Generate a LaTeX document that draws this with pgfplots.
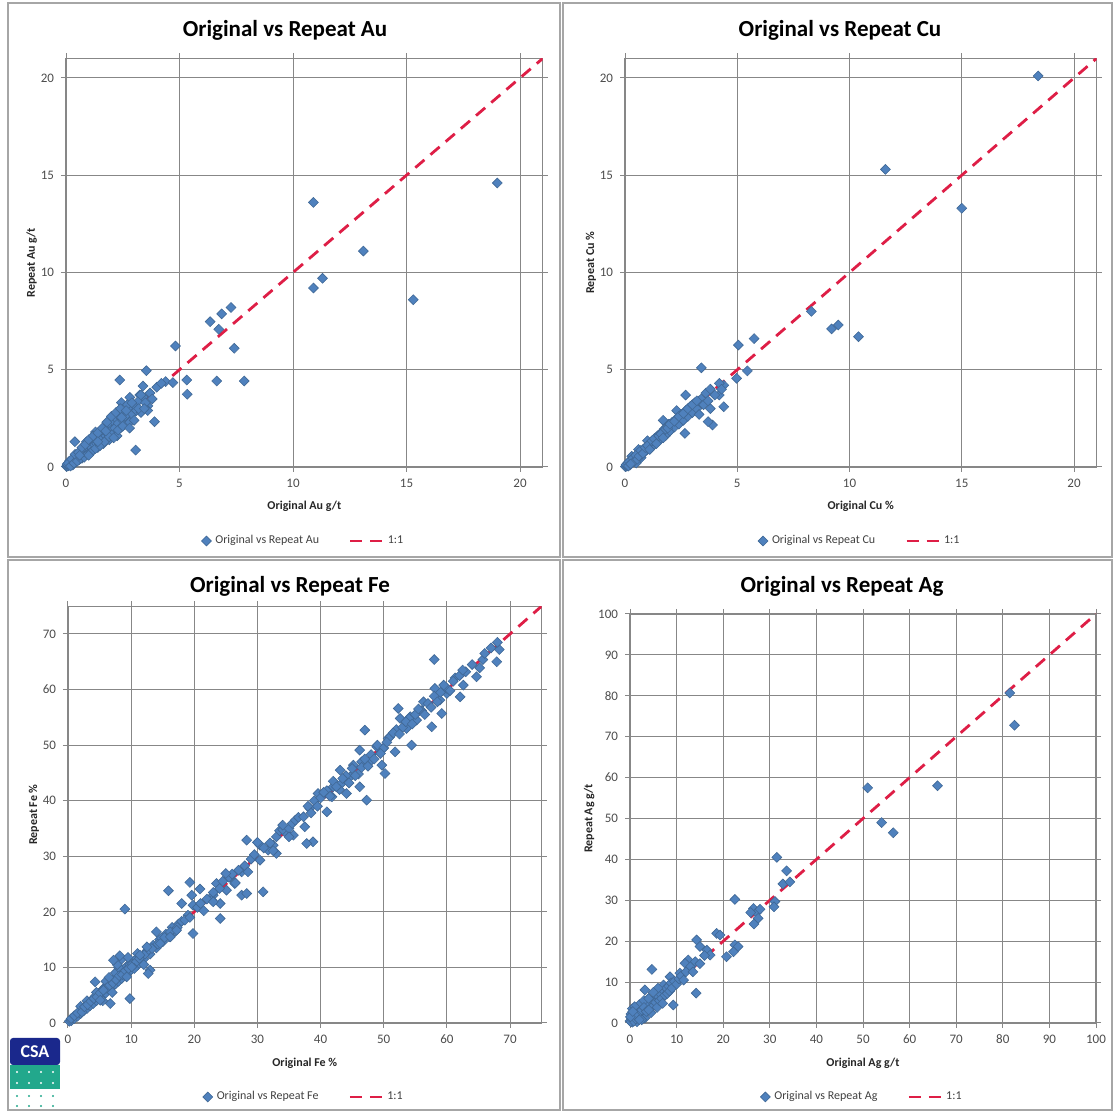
\documentclass[border=0pt]{standalone}
\usepackage{fontspec}
\setmainfont{Carlito}
\usepackage{pgfplots}
\pgfplotsset{compat=1.18}
\usepackage{pgfplotstable}

\definecolor{mk}{RGB}{79,129,189}
\definecolor{mkd}{RGB}{64,104,150}
\definecolor{oneline}{RGB}{222,30,70}
\definecolor{gridc}{RGB}{135,135,135}
\definecolor{csablue}{RGB}{26,40,140}
\definecolor{csateal}{RGB}{34,168,140}

% Au g/t
\pgfplotstableread{
x y
19.0 14.6
10.9 13.6
13.1 11.1
11.3 9.7
10.9 9.2
15.3 8.6
7.27 8.2
6.86 7.87
6.35 7.47
6.73 7.08
7.41 6.10
4.82 6.22
3.54 4.95
2.37 4.47
5.32 4.47
6.64 4.42
7.85 4.42
5.34 3.74
4.39 4.39
4.71 4.34
3.39 4.16
2.44 3.31
2.81 3.58
3.25 3.70
3.61 3.14
3.90 2.33
3.07 0.87
0.39 1.30
0.02 0.03
0.05 0.04
0.08 0.10
0.10 0.06
0.12 0.15
0.15 0.10
0.18 0.22
0.20 0.14
0.22 0.30
0.25 0.20
0.28 0.35
0.30 0.25
0.32 0.18
0.35 0.42
0.38 0.30
0.40 0.50
0.42 0.36
0.45 0.28
0.48 0.55
0.50 0.42
0.52 0.65
0.55 0.48
0.58 0.38
0.60 0.70
0.62 0.55
0.65 0.80
0.68 0.60
0.70 0.45
0.72 0.85
0.75 0.70
0.78 0.95
0.80 0.62
0.85 0.90
0.88 1.05
0.90 0.75
0.95 1.20
0.98 0.85
1.00 1.10
1.05 0.90
1.10 1.30
1.12 1.00
1.15 0.80
1.20 1.40
1.25 1.15
1.30 1.55
1.35 1.20
1.40 1.00
1.45 1.60
1.50 1.35
1.55 1.80
1.60 1.45
1.65 1.20
1.70 1.90
1.75 1.60
1.80 2.10
1.85 1.70
1.90 1.40
1.95 2.20
2.00 1.90
2.05 2.40
2.10 1.75
2.15 2.00
2.20 2.50
2.25 1.60
2.30 2.25
2.35 2.60
2.40 2.00
2.50 2.40
2.55 2.80
2.60 2.20
2.70 2.50
2.75 3.00
2.80 2.30
2.90 2.70
3.00 3.20
3.10 2.90
3.20 3.40
3.30 2.80
3.40 3.60
3.50 3.30
3.60 2.90
3.70 3.80
3.80 3.50
4.00 4.10
4.20 4.30
0.15 0.30
0.30 0.10
0.45 0.60
0.60 0.40
1.30 1.80
0.90 1.30
0.05 0.15
0.10 0.20
0.20 0.05
0.25 0.40
0.35 0.20
0.40 0.65
0.50 0.30
0.55 0.75
0.65 0.45
0.70 1.00
0.80 0.50
0.85 1.15
0.95 0.65
1.00 1.40
1.10 0.75
1.20 1.60
1.30 0.95
1.40 1.75
1.50 1.10
1.60 2.00
1.70 1.30
1.80 2.30
1.90 1.55
2.00 2.60
2.10 1.50
2.20 2.80
2.30 1.90
2.40 3.00
2.50 2.10
2.60 2.60
2.70 3.20
2.80 2.00
2.90 3.30
3.00 2.40
3.20 3.00
3.30 3.70
3.45 3.00
1.00 0.60
1.40 1.30
1.75 1.85
2.45 2.55
2.65 2.90
0.60 0.60
}\auData

% Cu %
\pgfplotstableread{
x y
18.4 20.1
11.6 15.3
15.0 13.3
9.5 7.3
9.2 7.1
10.4 6.7
8.3 8.0
5.75 6.6
5.05 6.27
3.4 5.1
5.45 4.94
4.97 4.56
4.4 4.2
4.2 3.7
4.4 3.1
3.9 2.16
3.7 2.33
3.8 3.0
3.3 3.4
2.7 3.7
2.67 1.73
2.3 2.9
1.7 2.4
0.02 0.02
0.05 0.08
0.08 0.04
0.10 0.14
0.12 0.08
0.15 0.20
0.18 0.12
0.20 0.25
0.22 0.16
0.25 0.30
0.28 0.20
0.30 0.38
0.32 0.26
0.35 0.30
0.38 0.45
0.40 0.32
0.42 0.50
0.45 0.40
0.48 0.36
0.50 0.55
0.52 0.45
0.55 0.62
0.58 0.50
0.60 0.42
0.62 0.70
0.65 0.58
0.68 0.75
0.70 0.60
0.72 0.48
0.75 0.80
0.78 0.68
0.80 0.90
0.85 0.75
0.88 0.95
0.90 0.82
0.95 1.05
1.00 0.90
1.05 1.15
1.10 1.00
1.15 1.25
1.20 1.05
1.25 1.35
1.30 1.15
1.35 1.50
1.40 1.25
1.45 1.60
1.50 1.35
1.55 1.70
1.60 1.45
1.65 1.80
1.70 1.55
1.75 1.95
1.80 1.60
1.85 2.05
1.90 1.75
1.95 2.20
2.00 1.85
2.10 2.30
2.20 2.05
2.30 2.50
2.40 2.20
2.50 2.70
2.60 2.40
2.70 2.90
2.80 2.60
2.90 3.10
3.00 2.80
3.10 3.30
3.20 3.00
3.30 2.70
3.40 3.50
3.50 3.20
3.60 3.80
3.70 3.40
3.80 4.00
4.00 3.70
4.20 4.30
4.30 4.00
0.30 0.55
0.60 0.90
1.00 1.35
0.50 0.20
0.05 0.12
0.12 0.20
0.18 0.28
0.22 0.10
0.30 0.20
0.35 0.45
0.42 0.30
0.48 0.60
0.55 0.40
0.62 0.55
0.70 0.85
0.80 0.70
0.90 1.00
1.00 1.10
1.10 0.90
1.20 1.35
1.30 1.45
1.40 1.20
1.50 1.60
1.60 1.70
1.70 1.50
1.80 1.95
1.90 2.00
2.00 2.20
2.20 2.35
2.40 2.60
2.60 2.75
2.80 3.00
3.00 3.20
3.20 3.40
0.15 0.05
0.25 0.15
}\cuData

% Fe %
\pgfplotstableread{
x y
0.2 0.3
0.5 0.4
0.8 0.9
1.0 0.8
1.3 1.5
1.5 1.2
1.8 2.0
2.0 1.7
2.3 2.6
2.5 2.2
2.8 3.1
3.0 2.6
3.3 3.6
3.5 3.1
3.8 4.2
4.0 3.5
4.3 4.8
4.5 4.0
4.8 5.3
5.0 4.5
5.3 5.8
5.5 5.0
5.8 6.4
6.0 5.4
6.3 6.9
6.5 6.0
6.8 7.5
7.0 6.5
7.3 8.0
7.5 7.0
7.8 8.6
8.0 7.5
8.3 9.2
8.5 8.0
8.8 9.5
9.0 8.6
9.3 10.2
9.5 9.0
9.8 10.5
10.0 9.6
10.5 11.2
11.0 10.4
11.5 12.0
12.0 11.5
12.5 13.0
13.0 12.4
13.5 14.0
14.0 13.5
14.5 15.0
15.0 14.6
15.5 16.0
16.0 15.5
16.5 17.2
17.0 16.5
17.5 17.8
3.0 4.0
4.5 5.5
6.0 7.5
7.5 9.0
8.0 10.0
2.0 3.0
5.5 4.0
7.0 5.5
11.0 12.5
12.0 10.5
0.5 0.8
1.0 1.3
1.5 1.8
2.2 2.0
2.6 2.9
3.1 3.3
3.6 3.9
4.1 4.4
4.6 4.7
5.1 5.4
5.6 5.9
6.1 6.3
6.6 6.8
7.1 7.2
7.6 7.8
8.1 8.5
8.6 8.7
9.1 9.4
9.6 9.8
10.2 10.6
10.8 11.0
11.3 11.6
12.2 12.4
12.8 13.2
13.3 13.4
14.2 14.2
14.8 15.3
15.3 15.4
16.2 16.4
17.3 17.2
18.0 18.3
19.0 19.4
8.5 11.5
7.8 10.5
6.5 8.2
9.5 11.8
10.5 9.8
9.0 20.5
15.9 23.8
19.3 25.3
20.9 24.1
19.6 23.0
18.0 21.5
19.8 21.2
23.5 25.1
23.0 23.0
22.8 22.1
24.1 21.5
24.1 18.8
25.1 23.9
25.7 26.3
26.4 25.1
27.5 27.2
27.5 23.0
28.3 23.3
28.3 32.9
30.4 32.0
30.9 23.6
31.7 31.1
30.4 29.3
32.5 32.0
33.0 30.5
34.6 34.1
35.7 33.8
18.5 18.5
19.3 19.0
19.8 16.1
14.0 16.4
16.2 15.5
17.2 16.7
14.6 14.3
12.5 13.7
8.2 12.1
7.2 11.3
11.4 12.2
13.0 9.5
12.7 8.9
10.1 10.1
9.3 8.3
9.8 4.4
4.3 7.4
5.6 5.9
6.7 3.5
5.1 4.1
20.5 20.8
21.0 21.5
22.0 22.3
23.0 23.5
24.0 24.2
24.5 25.5
25.5 26.2
26.0 26.8
27.0 27.5
28.0 28.3
29.0 29.5
29.5 30.3
31.0 31.5
32.0 32.4
33.0 33.5
33.5 34.6
34.0 34.8
35.0 35.0
35.5 35.9
36.0 36.5
36.5 37.0
21.5 20.2
23.0 21.8
26.5 25.2
28.5 27.2
32.5 31.0
35.0 33.5
25.0 26.9
30.0 32.5
34.0 35.6
58.0 65.4
65.7 65.4
67.9 65.0
68.3 67.2
65.2 63.9
64.7 62.3
61.3 62.1
62.6 60.8
62.1 58.7
58.1 60.2
60.0 59.3
58.9 58.1
59.2 55.7
57.6 53.3
56.3 57.8
55.2 54.5
53.6 53.0
52.3 56.6
52.6 54.8
54.2 55.1
54.4 50.0
47.0 52.7
50.7 51.2
51.8 48.8
50.2 44.9
49.9 49.4
48.9 49.7
49.7 46.4
46.2 49.1
46.5 47.0
47.8 47.0
45.2 46.4
47.3 40.1
46.2 42.5
43.1 45.5
43.3 43.1
42.0 42.5
44.7 44.3
41.8 40.7
44.1 41.3
39.6 41.3
38.3 38.6
37.3 37.1
41.0 38.0
38.8 32.6
37.8 32.3
37.5 35.3
38.0 39.0
39.0 40.0
40.0 40.5
41.0 41.8
42.0 43.5
43.0 42.0
44.0 44.5
45.0 45.8
46.0 44.8
47.0 47.5
48.0 48.3
49.0 50.0
50.0 49.5
51.0 51.5
52.0 52.8
53.0 53.2
54.0 54.8
55.0 55.5
56.0 56.2
57.0 57.5
58.0 58.8
59.0 59.5
60.0 60.2
61.0 61.5
62.0 62.5
63.0 63.2
64.0 64.5
66.0 66.5
67.0 67.5
68.0 68.5
38.5 37.8
39.5 39.0
40.5 41.5
41.5 40.8
42.5 42.5
43.5 44.0
44.5 43.2
45.5 44.5
46.5 46.0
47.5 46.2
48.5 47.5
49.5 48.5
50.5 50.5
51.5 52.2
52.5 52.0
53.5 54.2
54.5 53.8
55.5 56.5
56.5 55.5
57.5 56.8
58.5 57.8
59.5 60.8
60.5 59.8
62.5 63.5
}\feData

% Ag g/t
\pgfplotstableread{
x y
81.5 80.7
82.5 72.8
66.0 58.0
51.0 57.5
54.0 49.0
56.5 46.5
31.5 40.5
33.6 37.2
32.8 34.0
34.3 34.5
31.1 29.7
30.9 28.4
22.5 30.2
26.5 28.0
27.2 27.0
25.9 27.0
27.9 27.8
27.5 25.6
26.6 24.2
18.6 21.9
19.3 21.5
14.3 20.3
15.0 18.7
16.5 17.8
22.5 19.1
23.2 18.7
22.2 17.4
20.7 16.2
17.2 16.6
12.5 15.4
11.8 14.6
12.9 13.4
10.7 12.2
4.7 13.1
7.2 9.3
3.2 8.1
14.2 7.3
9.3 4.4
8.6 11.3
0.0 0.5
0.3 1.0
0.5 0.2
0.8 1.5
1.0 0.6
1.2 2.0
1.5 1.0
1.8 2.5
2.0 1.5
2.2 3.0
2.5 2.0
2.8 3.5
3.0 2.5
3.2 1.2
3.5 4.0
3.8 3.0
4.0 4.8
4.3 3.5
4.5 2.5
4.8 5.5
5.0 4.2
5.3 6.0
5.5 5.0
5.8 3.8
6.0 6.5
6.3 5.5
6.5 7.2
6.8 6.0
7.0 4.8
7.3 7.8
7.5 6.8
7.8 8.5
8.0 7.2
8.3 9.0
8.5 7.8
8.8 9.8
9.0 8.5
9.5 10.2
10.0 9.5
10.5 10.8
11.0 11.5
11.5 10.5
12.0 12.5
13.0 13.8
13.5 12.5
14.0 15.0
15.0 14.5
16.0 16.5
1.0 3.0
2.0 4.5
0.5 3.5
1.5 0.3
2.5 0.8
0.2 2.2
1.0 4.0
3.0 5.5
4.0 6.0
6.0 8.5
5.0 7.5
0.2 0.3
0.5 1.2
0.8 0.4
1.2 1.0
1.5 2.2
2.0 2.5
2.5 3.2
3.0 3.8
3.5 2.8
4.0 3.2
1.0 2.0
0.1 1.5
0.6 2.8
2.0 0.8
}\agData

\pgfplotsset{
  panel/.style={
    scale only axis, anchor=south west,
    grid=major,
    major grid style={gridc, line width=0.5pt},
    axis line style={gridc, line width=0.6pt},
    tick style={gridc, line width=0.5pt},
    tick align=outside, major tick length=2.5pt,
    ticklabel style={font=\fontsize{6.5}{7}\selectfont, text=black!70},
    /pgf/number format/assume math mode=true,
    label style={font=\bfseries\fontsize{6}{7}\selectfont, text=black!85},
    xlabel shift=0pt, ylabel shift=-5pt,
    legend columns=2,
    legend style={draw=none, fill=none, at={(0.5,0)}, anchor=center, yshift=-37pt,
      font=\fontsize{6}{7}\selectfont, text=black!75,
      /tikz/every even column/.append style={column sep=13pt}},
    legend cell align=left,
  },
  pts/.style={only marks, mark=square*, mark size=1.75pt,
    mark options={rotate=45, fill=mk, draw=mkd, line width=0.3pt},
    legend image code/.code={\pgfuseplotmark{square*}},
    legend image code/.code={\draw[mark repeat=2, mark phase=2, ##1] plot coordinates {(0pt,0pt) (5pt,0pt) (12pt,0pt)};}},
  oneone/.style={oneline, line width=1.4pt, dash pattern=on 6pt off 4pt, no marks,
    legend image code/.code={\draw[##1] (0pt,0pt) -- (16pt,0pt);}},
}

\begin{document}
\begin{tikzpicture}
\useasboundingbox (0,0) rectangle (557pt,556.5pt);
% panel frames
\draw[gray!70, line width=0.8pt] (4pt,278pt) rectangle (280pt,555pt);
\draw[gray!70, line width=0.8pt] (281.5pt,278pt) rectangle (556pt,555pt);
\draw[gray!70, line width=0.8pt] (4pt,1.5pt) rectangle (280pt,276.5pt);
\draw[gray!70, line width=0.8pt] (281.5pt,1.5pt) rectangle (556pt,276.5pt);

% titles
\node[font=\bfseries\fontsize{11.5}{13}\selectfont] at (142.5pt,541.5pt) {Original vs Repeat Au};
\node[font=\bfseries\fontsize{11.5}{13}\selectfont] at (420pt,541.5pt) {Original vs Repeat Cu};
\node[font=\bfseries\fontsize{11.5}{13}\selectfont] at (145pt,263.5pt) {Original vs Repeat Fe};
\node[font=\bfseries\fontsize{11.5}{13}\selectfont] at (421pt,263.5pt) {Original vs Repeat Ag};

% Au
\begin{axis}[panel, at={(33pt,323pt)}, width=238.35pt, height=204.25pt,
  xmin=0, xmax=21, ymin=0, ymax=21, xtick={0,5,...,20}, ytick={0,5,...,20},
  xlabel={Original Au g/t}, ylabel={Repeat Au g/t}]
\addplot[pts] table {\auData};
\addlegendentry{Original vs Repeat Au}
\addplot[oneone] coordinates {(0,0) (21,21)};
\addlegendentry{1:1}
\end{axis}

% Cu
\begin{axis}[panel, at={(312.5pt,323pt)}, width=235.75pt, height=204.25pt,
  xmin=0, xmax=21, ymin=0, ymax=21, xtick={0,5,...,20}, ytick={0,5,...,20},
  xlabel={Original  Cu \%}, ylabel={Repeat Cu \%}]
\addplot[pts] table {\cuData};
\addlegendentry{Original vs Repeat Cu}
\addplot[oneone] coordinates {(0,0) (21,21)};
\addlegendentry{1:1}
\end{axis}

% Fe
\begin{axis}[panel, at={(34pt,45pt)}, width=236.8pt, height=208.4pt,
  xmin=0, xmax=75, ymin=0, ymax=75, xtick={0,10,...,70}, ytick={0,10,...,70},
  xlabel={Original  Fe \%}, ylabel={Repeat Fe \%}]
\addplot[pts] table {\feData};
\addlegendentry{Original vs Repeat Fe}
\addplot[oneone] coordinates {(0,0) (75,75)};
\addlegendentry{1:1}
\end{axis}

% Ag
\begin{axis}[panel, at={(315pt,45pt)}, width=233pt, height=204.5pt,
  xmin=0, xmax=100, ymin=0, ymax=100, xtick={0,10,...,100}, ytick={0,10,...,100},
  xlabel={Original Ag g/t}, ylabel={Repeat Ag g/t}]
\addplot[pts] table {\agData};
\addlegendentry{Original vs Repeat Ag}
\addplot[oneone] coordinates {(0,0) (100,100)};
\addlegendentry{1:1}
\end{axis}

% logo
\fill[csablue, rounded corners=1.5pt] (5pt,24pt) rectangle (30pt,37.5pt);
\node[white, font=\bfseries\fontsize{9}{10}\selectfont] at (17.5pt,30.8pt) {CSA};
\fill[csateal] (5pt,12pt) rectangle (30pt,24pt);
\foreach \i in {0,1,2,3} {
  \foreach \j in {0,1} { \fill[white] (8.5pt+\i*6pt,15pt+\j*5.5pt) circle (0.6pt); }
  \foreach \j in {0,1} { \fill[csateal] (8.5pt+\i*6pt,3.5pt+\j*5pt) circle (0.6pt); }
}
\end{tikzpicture}
\end{document}
